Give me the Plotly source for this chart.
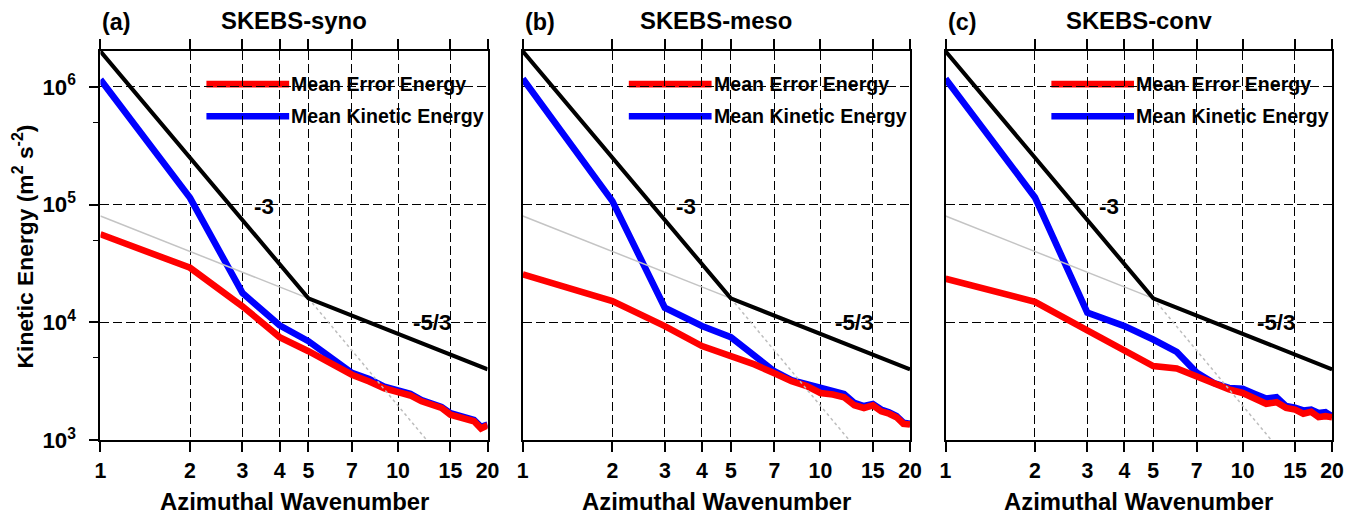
import plotly.graph_objects as go

# Azimuthal wavenumbers
wavenumber = list(range(1, 21))

# Mean error energy / mean kinetic energy spectra (m^2 s^-2)
error_syno = [56000, 29100, 13700, 7500, 5700, 4400, 3600, 3150, 2760, 2560,
              2400, 2140, 2010, 1880, 1650, 1570, 1530, 1450, 1260, 1340]
kinetic_syno = [1.15e6, 1.14e5, 17800, 9440, 6930, 5000, 3730, 3300, 2850, 2650,
                2480, 2190, 2060, 1920, 1700, 1610, 1570, 1490, 1300, 1360]

error_meso = [25600, 15200, 9300, 6300, 5180, 4400, 3700, 3170, 2880, 2520,
              2440, 2320, 1980, 1880, 1980, 1760, 1680, 1570, 1380, 1360]
kinetic_meso = [1.17e6, 1.07e5, 13300, 9310, 7500, 5300, 3850, 3240, 3010, 2780,
                2640, 2470, 2070, 1950, 2030, 1820, 1730, 1610, 1410, 1380]

error_conv = [23500, 14950, 8560, 5700, 4260, 4060, 3480, 2970, 2700, 2520,
              2290, 2040, 2100, 1880, 1820, 1680, 1740, 1570, 1600, 1570]
kinetic_conv = [1.17e6, 1.15e5, 12100, 9310, 7160, 5620, 3750, 3060, 2780, 2730,
                2470, 2260, 2320, 1950, 1890, 1790, 1820, 1700, 1730, 1600]

# Reference slope lines (-3 then -5/3 label), and their grey extensions
slope_k = [1, 5, 20]
slope_e = [2.0e6, 1.6e4, 4.0e3]
shallow_ext_k = [1, 5]
shallow_ext_e = [8.0e4, 1.6e4]
steep_ext_k = [5, 12.5]
steep_ext_e = [1.6e4, 1.0e3]

panel_tags = ["(a)", "(b)", "(c)"]
panel_titles = ["SKEBS-syno", "SKEBS-meso", "SKEBS-conv"]
error_series = [error_syno, error_meso, error_conv]
kinetic_series = [kinetic_syno, kinetic_meso, kinetic_conv]

x_ticks = [1, 2, 3, 4, 5, 7, 10, 15, 20]
x_tick_text = [str(v) for v in x_ticks]
y_ticks = [1e3, 1e4, 1e5, 1e6]
y_tick_text = ["10<sup>3</sup>", "10<sup>4</sup>", "10<sup>5</sup>", "10<sup>6</sup>"]
y_minor_left = [5e3, 5e4, 5e5]
y_minor_right = [m * 10 ** p for p in (3, 4, 5) for m in (2, 4, 6, 8)]

# Layout is laid out on a 1365x517 grid and drawn on a slightly larger canvas
REF_W, REF_H = 1365, 517
W, H = 1379, 531
X_SHIFT = 6
K = 1.0 / 0.985  # size factor for fonts, ticks and line widths


def fx(v):
    return (v - X_SHIFT) / REF_W


def fy(v):
    return 1 - v / REF_H


panel_px = [(100.7, 489.0), (524.3, 912.7), (948.3, 1336.0)]
x_domains = [[fx(a), fx(b)] for a, b in panel_px]
y_domain = [fy(439.4), fy(50.7)]
y_range = [3, 6.305]
x_range = [0, 1.30103]

FONT = "Liberation Sans, Arial, sans-serif"
RED = "#ff0000"
BLUE = "#0000ff"
GRID_DASH = "9px,4px"


def bold(size):
    return dict(family=FONT, size=size * K, color="black", weight="bold")


fig = go.Figure()
layout = dict(
    width=W, height=H, autosize=False,
    margin=dict(l=0, r=0, t=0, b=0, pad=0),
    paper_bgcolor="white", plot_bgcolor="white",
    showlegend=False,
    font=dict(family=FONT, color="black"),
)
annotations = []
shapes = []

for i in range(3):
    n = i + 1
    xa = "x" if n == 1 else f"x{n}"
    ya = "y" if n == 1 else f"y{n}"
    xkey = "xaxis" if n == 1 else f"xaxis{n}"
    ykey = "yaxis" if n == 1 else f"yaxis{n}"
    yrkey = f"yaxis{n + 3}"

    fig.add_trace(go.Scatter(x=wavenumber, y=kinetic_series[i], mode="lines",
                             line=dict(color=BLUE, width=6.5 * K),
                             xaxis=xa, yaxis=ya, name="Mean Kinetic Energy"))
    fig.add_trace(go.Scatter(x=wavenumber, y=error_series[i], mode="lines",
                             line=dict(color=RED, width=6.5 * K),
                             xaxis=xa, yaxis=ya, name="Mean Error Energy"))
    fig.add_trace(go.Scatter(x=shallow_ext_k, y=shallow_ext_e, mode="lines",
                             line=dict(color="#c4c4c4", width=1.5),
                             xaxis=xa, yaxis=ya, hoverinfo="skip"))
    fig.add_trace(go.Scatter(x=steep_ext_k, y=steep_ext_e, mode="lines",
                             line=dict(color="#bdbdbd", width=1.5, dash="dot"),
                             xaxis=xa, yaxis=ya, hoverinfo="skip"))
    fig.add_trace(go.Scatter(x=slope_k, y=slope_e, mode="lines",
                             line=dict(color="black", width=4 * K),
                             xaxis=xa, yaxis=ya, hoverinfo="skip"))

    layout[xkey] = dict(
        domain=x_domains[i], anchor=ya, type="log", range=x_range,
        tickmode="array", tickvals=x_ticks, ticktext=x_tick_text,
        ticks="outside", ticklen=10, tickwidth=1.5, tickcolor="black",
        mirror="ticks", showline=True, linewidth=2, linecolor="black",
        showgrid=True, gridcolor="black", gridwidth=1, griddash=GRID_DASH,
        zeroline=False, tickfont=bold(21),
    )
    left = dict(
        domain=y_domain, anchor=xa, type="log", range=y_range,
        tickmode="array", tickvals=y_ticks, ticktext=y_tick_text,
        showline=True, mirror=True, linewidth=2, linecolor="black",
        showgrid=True, gridcolor="black", gridwidth=1, griddash=GRID_DASH,
        zeroline=False, tickfont=bold(22),
    )
    if n == 1:
        left.update(ticks="outside", ticklen=9, tickwidth=1.5, tickcolor="black",
                    showticklabels=True, ticklabelstandoff=9,
                    minor=dict(tickmode="array", tickvals=y_minor_left,
                               ticks="outside", ticklen=5, tickwidth=1.2,
                               tickcolor="black", showgrid=False))
    else:
        left.update(ticks="", showticklabels=False)
    layout[ykey] = left
    layout[yrkey] = dict(
        overlaying=ya, anchor=xa, side="right", type="log", range=y_range,
        tickmode="array", tickvals=y_ticks, showticklabels=False,
        ticks="outside", ticklen=9, tickwidth=1.5, tickcolor="black",
        minor=dict(tickmode="array", tickvals=y_minor_right, ticks="outside",
                   ticklen=6, tickwidth=1.2, tickcolor="black", showgrid=False),
        showgrid=False, showline=False, zeroline=False,
    )

    # Legend keys and labels
    dref_x = f"{xa} domain"
    dref_y = f"{ya} domain"
    for color, yk, label in [(RED, 0.9143, "Mean Error Energy"),
                             (BLUE, 0.8318, "Mean Kinetic Energy")]:
        shapes.append(dict(type="line", xref=dref_x, yref=dref_y,
                           x0=0.2738, x1=0.4875, y0=yk, y1=yk,
                           line=dict(color=color, width=6.5 * K), layer="below"))
        annotations.append(dict(text=label, xref=dref_x, yref=dref_y,
                                x=0.4875, y=yk, xanchor="left", yanchor="middle",
                                showarrow=False, font=bold(19.3)))

    # Slope labels
    annotations.append(dict(text="-3", xref=dref_x, yref=dref_y, x=0.4218, y=0.6005,
                            xanchor="center", yanchor="middle", showarrow=False,
                            font=bold(22)))
    annotations.append(dict(text="-5/3", xref=dref_x, yref=dref_y, x=0.8558, y=0.3013,
                            xanchor="center", yanchor="middle", showarrow=False,
                            font=bold(22)))

    # Panel tag and title
    x0, x1 = x_domains[i]
    annotations.append(dict(text=panel_tags[i], xref="paper", yref="paper",
                            x=x0, y=fy(22), xanchor="left", yanchor="middle",
                            showarrow=False, font=bold(23)))
    annotations.append(dict(text=panel_titles[i], xref="paper", yref="paper",
                            x=(x0 + x1) / 2, y=fy(20), xanchor="center",
                            yanchor="middle", showarrow=False, font=bold(23.5)))
    # X-axis title
    annotations.append(dict(text="Azimuthal Wavenumber", xref="paper", yref="paper",
                            x=(x0 + x1) / 2, y=fy(501), xanchor="center",
                            yanchor="middle", showarrow=False, font=bold(23.5)))

# Y-axis title
annotations.append(dict(text="Kinetic Energy (m<sup>2</sup> s<sup>-2</sup>)",
                        xref="paper", yref="paper", x=fx(24), y=fy(246),
                        xanchor="center", yanchor="middle", textangle=-90,
                        showarrow=False, font=bold(22.5)))

layout["annotations"] = annotations
layout["shapes"] = shapes
fig.update_layout(**layout)
fig.write_html("out.html", config={"displayModeBar": False})
